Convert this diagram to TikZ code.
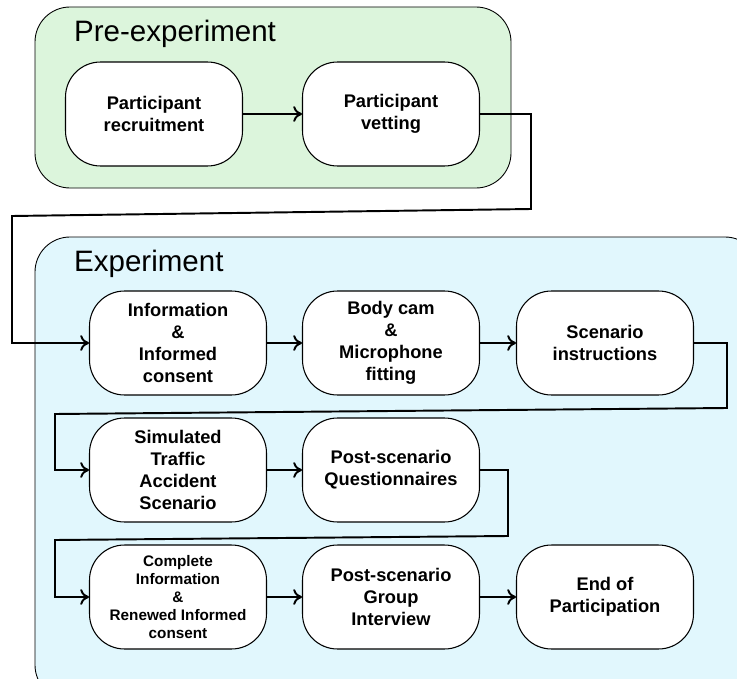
\documentclass[tikz,border=0pt]{standalone}
\usepackage{fontspec}
\setmainfont{Liberation Sans}
\usetikzlibrary{arrows.meta}

\definecolor{preback}{HTML}{DCF5DC}
\definecolor{expback}{HTML}{E1F7FD}

\tikzset{
  stage/.style={draw=black, line width=0.6pt, fill=white, rounded corners=0.7cm,
    minimum width=3.54cm, minimum height=2.08cm, align=center,
    font=\bfseries\fontsize{10.4}{12.6}\selectfont},
  group/.style={draw=black, line width=0.5pt, rounded corners=0.7cm},
  grouptitle/.style={anchor=west, font=\fontsize{16.8}{19}\selectfont},
  flow/.style={line width=1.1pt, -{To[length=5pt,width=9pt]}},
}

\begin{document}
\begin{tikzpicture}[x=0.02cm, y=-0.02cm]
  \useasboundingbox (0,0) rectangle (737,679);
  \clip (0,0) rectangle (737,679);
  % groups
  \draw[group, fill=preback] (35,7) rectangle (511,188);
  \node[grouptitle] (pretitle) at (68,34) {Pre-experiment};
  \draw[group, fill=expback] (35,237) rectangle (760,700);
  \node[grouptitle] (exptitle) at (68,264) {Experiment};

  % pre-experiment stages
  \node[stage] (recruit) at (154,114) {Participant\\recruitment};
  \node[stage] (vetting) at (391,114) {Participant\\vetting};

  % experiment stages
  \node[stage] (info) at (178,343) {Information\\\&\\Informed\\consent};
  \node[stage] (bodycam) at (391,343) {Body cam\\\&\\Microphone\\fitting};
  \node[stage] (instruct) at (605,343) {Scenario\\instructions};
  \node[stage] (accident) at (178,470) {Simulated\\Traffic\\Accident\\Scenario};
  \node[stage] (quest) at (391,470) {Post-scenario\\Questionnaires};
  \node[stage, font=\bfseries\fontsize{8.7}{10.3}\selectfont] (renewed) at (178,597)
    {Complete\\Information\\\&\\Renewed Informed\\consent};
  \node[stage] (interview) at (391,597) {Post-scenario\\Group\\Interview};
  \node[stage] (endpart) at (605,597) {End of\\Participation};

  % connectors
  \draw[flow] (recruit) -- (vetting);
  \draw[flow] (vetting.east) -| (531,209) -- (12,216) |- (info.west);
  \draw[flow] (info) -- (bodycam);
  \draw[flow] (bodycam) -- (instruct);
  \draw[flow] (instruct.east) -| (727,408) -- (55,414) |- (accident.west);
  \draw[flow] (accident) -- (quest);
  \draw[flow] (quest.east) -| (508,536) -- (55,540) |- (renewed.west);
  \draw[flow] (renewed) -- (interview);
  \draw[flow] (interview) -- (endpart);
\end{tikzpicture}
\end{document}
